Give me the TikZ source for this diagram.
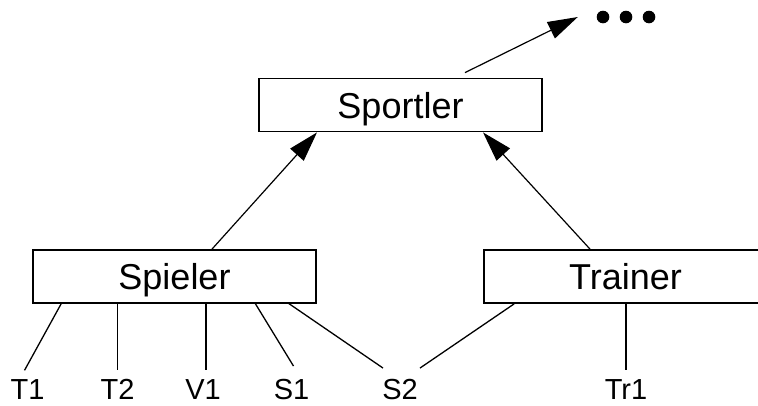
\documentclass[tikz,border=0pt]{standalone}
\usepackage{fontspec}
\setmainfont{Liberation Sans}
\usetikzlibrary{positioning,arrows.meta}

\begin{document}
\begin{tikzpicture}[
        x=1pt, y=1pt,
        box/.style={draw, line width=1.8pt, inner sep=0pt, text height=26pt, text depth=0pt,
            minimum width=283pt, minimum height=53pt, font=\fontsize{36}{40}\selectfont},
        lbl/.style={inner sep=0pt, anchor=base, font=\fontsize{29}{34}\selectfont},
        arr/.style={-{Triangle[length=30pt,width=18pt]}, line width=1.2pt},
        link/.style={line width=1.3pt},
    ]
        \clip (0,0) rectangle (758,-405);

        % Classes
        \node[box] (sportler) at (400.5,-105) {Sportler};
        \node[box] (spieler) at (174.5,-276.5) {Spieler};
        \node[box] (trainer) at (625.5,-276.5) {Trainer};
        \node[inner sep=0pt, minimum width=96pt, minimum height=14pt] (dots) at (626,-17) {};
        \foreach \dx in {-23,0,23}
            \fill ([xshift=\dx pt]dots.center) circle (6.3pt);

        % Instances
        \node[lbl] (t1) at (27.5,-399.5) {T1};
        \node[lbl] (t2) at (117.5,-399.5) {T2};
        \node[lbl] (v1) at (203,-399.5) {V1};
        \node[lbl] (s1) at (291.5,-399.5) {S1};
        \node[lbl] (s2) at (400,-399.5) {S2};
        \node[lbl] (tr1) at (626,-399.5) {Tr1};

        % Generalisation
        \draw[arr] ([xshift=37.5pt]spieler.north) -- ([xshift=-83.5pt]sportler.south);
        \draw[arr] ([xshift=-35.5pt]trainer.north) -- ([xshift=82.5pt]sportler.south);
        \draw[arr] ([xshift=64.5pt,yshift=5pt]sportler.north) -- (dots.west);

        % Instance links
        \draw[link] ([xshift=29pt]spieler.south west) -- ([xshift=-3pt,yshift=9pt]t1.north);
        \draw[link] (t2 |- spieler.south) -- ([yshift=9pt]t2.north);
        \draw[link] ([xshift=3pt]v1 |- spieler.south) -- ([xshift=3pt,yshift=9pt]v1.north);
        \draw[link] ([xshift=81pt]spieler.south) -- ([xshift=2pt,yshift=13pt]s1.north);
        \draw[link] ([xshift=-29pt,yshift=1pt]spieler.south east) -- ([xshift=-17pt,yshift=11pt]s2.north);
        \draw[link] ([xshift=31pt]trainer.south west) -- ([xshift=20pt,yshift=11pt]s2.north);
        \draw[link] (tr1 |- trainer.south) -- ([yshift=9pt]tr1.north);
    \end{tikzpicture}
\end{document}
